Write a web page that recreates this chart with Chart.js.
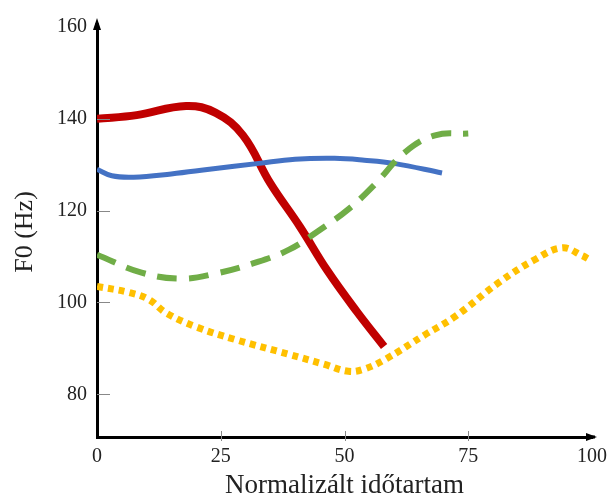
<!DOCTYPE html>
<html>
<head>
<meta charset="utf-8">
<script src="https://cdn.jsdelivr.net/npm/chart.js@4.4.1/dist/chart.umd.min.js"></script>
<style>
  html, body { margin: 0; padding: 0; background: #fff; }
  #wrap { width: 615px; height: 502px; }
</style>
</head>
<body>
<div id="wrap"><canvas id="f0Chart"></canvas></div>
<script>
// Adatok (x: normalizált időtartam, y: F0 Hz)
const xTicks = [0, 25, 50, 75, 100];
const yTicks = [80, 100, 120, 140, 160];

const redX = [0, 8, 18, 24, 29.5, 35, 41, 46.5, 52.5, 58];
const redY = [140, 140.8, 142.8, 141.3, 136.4, 126, 116.5, 107, 98, 90.4];

const blueX = [0, 3, 7.4, 15, 22.7, 32.7, 40, 48, 54, 60, 69.7];
const blueY = [129, 127.6, 127.3, 128, 129, 130.3, 131.2, 131.4, 131, 130.3, 128.2];

const greenX = [0, 9, 17, 24, 31.5, 38.8, 45, 51, 56.2, 62.2, 68.3, 75];
const greenY = [110.4, 106.5, 105.2, 106.3, 108.5, 111.5, 115.8, 120.5, 125.8, 132.7, 136.4, 136.8];

const yellowX = [0, 6.4, 10.4, 14, 20, 28, 38.8, 46, 50.8, 54, 58.2, 66.3, 72.3, 81, 88.4, 94, 98, 99.6];
const yellowY = [103.5, 102.2, 100.7, 97.7, 94.7, 91.9, 88.7, 86.5, 85, 85.5, 87.6, 93, 96.9, 104.2, 109.3, 111.9, 110.2, 109.3];

function pts(xs, ys) {
    return xs.map(function(x, i) { return { x: x, y: ys[i] }; });
}

const serif = "'Liberation Serif', 'DejaVu Serif', serif";

// nyilak és belső osztásjelek
const axisPlugin = {
    id: 'axisArrows',
    afterDatasetsDraw: function(chart) {
        const ctx = chart.ctx;
        const a = chart.chartArea;
        const xs = chart.scales.x;
        const ys = chart.scales.y;
        ctx.save();
        ctx.strokeStyle = '#888';
        ctx.lineWidth = 1;
        yTicks.slice(0, -1).forEach(function(v) {
            const py = Math.round(ys.getPixelForValue(v)) + 0.5;
            ctx.beginPath();
            ctx.moveTo(a.left, py);
            ctx.lineTo(a.left + 13, py);
            ctx.stroke();
        });
        xTicks.slice(1, -1).forEach(function(v) {
            const px = Math.round(xs.getPixelForValue(v)) + 0.5;
            ctx.beginPath();
            ctx.moveTo(px, a.bottom - 6);
            ctx.lineTo(px, a.bottom + 4);
            ctx.stroke();
        });
        ctx.fillStyle = '#000';
        ctx.strokeStyle = '#000';
        ctx.lineWidth = 3;
        // függőleges nyíl
        ctx.beginPath();
        ctx.moveTo(a.left, a.top);
        ctx.lineTo(a.left, a.top - 4);
        ctx.stroke();
        ctx.beginPath();
        ctx.moveTo(a.left, a.top - 9);
        ctx.lineTo(a.left - 4, a.top + 3);
        ctx.lineTo(a.left + 4, a.top + 3);
        ctx.closePath();
        ctx.fill();
        // vízszintes nyíl
        ctx.beginPath();
        ctx.moveTo(a.right, a.bottom);
        ctx.lineTo(a.right + 3, a.bottom);
        ctx.stroke();
        ctx.beginPath();
        ctx.moveTo(a.right + 5, a.bottom);
        ctx.lineTo(a.right - 6, a.bottom - 4);
        ctx.lineTo(a.right - 6, a.bottom + 4);
        ctx.closePath();
        ctx.fill();
        ctx.restore();
    }
};

const lineStyle = {
    fill: false,
    pointRadius: 0,
    tension: 0.4,
    borderCapStyle: 'butt'
};

const chart = new Chart(document.getElementById('f0Chart'), {
    type: 'line',
    data: {
        datasets: [
            Object.assign({ label: 'sárga', data: pts(yellowX, yellowY), borderColor: '#FFC000', borderWidth: 7, borderDash: [6, 5] }, lineStyle),
            Object.assign({ label: 'zöld', data: pts(greenX, greenY), borderColor: '#70AD47', borderWidth: 6, borderDash: [20, 12] }, lineStyle),
            Object.assign({ label: 'kék', data: pts(blueX, blueY), borderColor: '#4472C4', borderWidth: 5 }, lineStyle),
            Object.assign({ label: 'piros', data: pts(redX, redY), borderColor: '#C00000', borderWidth: 8 }, lineStyle)
        ]
    },
    options: {
        responsive: true,
        maintainAspectRatio: false,
        animation: false,
        layout: {
            padding: { top: 27, right: 19, left: 0, bottom: 0 }
        },
        plugins: {
            legend: { display: false },
            tooltip: { enabled: false }
        },
        scales: {
            x: {
                type: 'linear',
                min: 0,
                max: 100,
                afterBuildTicks: function(scale) {
                    scale.ticks = xTicks.map(function(v) { return { value: v }; });
                },
                afterFit: function(scale) { scale.height = 65; },
                grid: { display: true, drawOnChartArea: false, drawTicks: false },
                border: { display: true, color: '#000', width: 3 },
                ticks: { color: '#222', padding: 8, font: { family: serif, size: 20 } },
                title: {
                    display: true,
                    text: 'Normalizált időtartam',
                    color: '#222',
                    padding: { top: 0, bottom: 0 },
                    font: { family: serif, size: 27 }
                }
            },
            y: {
                type: 'linear',
                min: 70.7,
                max: 160,
                afterBuildTicks: function(scale) {
                    scale.ticks = yTicks.map(function(v) { return { value: v }; });
                },
                afterFit: function(scale) { scale.width = 97; },
                grid: { display: true, drawOnChartArea: false, drawTicks: false },
                border: { display: true, color: '#000', width: 3 },
                ticks: { color: '#222', padding: 10, font: { family: serif, size: 20 } },
                title: {
                    display: true,
                    text: 'F0 (Hz)',
                    color: '#222',
                    padding: { top: 10, bottom: 0 },
                    font: { family: serif, size: 26 }
                }
            }
        }
    },
    plugins: [axisPlugin]
});
</script>
</body>
</html>
